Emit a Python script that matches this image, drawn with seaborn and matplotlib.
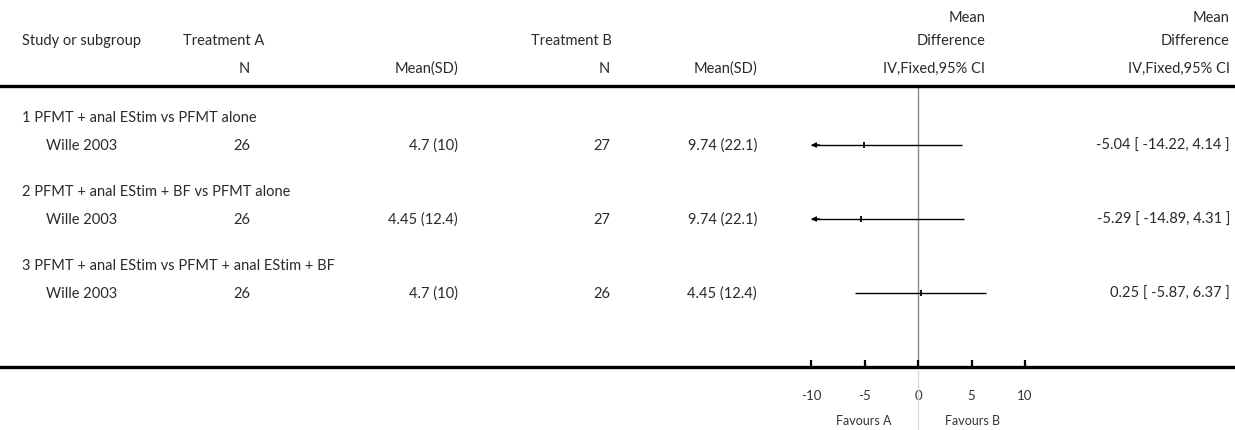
import numpy as np
import pandas as pd
import seaborn as sns
import matplotlib.pyplot as plt
from matplotlib.lines import Line2D

# ---- data ----
groups = ["1 PFMT + anal EStim vs PFMT alone",
          "2 PFMT + anal EStim + BF vs PFMT alone",
          "3 PFMT + anal EStim vs PFMT + anal EStim + BF"]
studies = ["Wille 2003", "Wille 2003", "Wille 2003"]
n_a = [26, 26, 26]
mean_a = [4.7, 4.45, 4.7]
sd_a = [10, 12.4, 10]
n_b = [27, 27, 26]
mean_b = [9.74, 9.74, 4.45]
sd_b = [22.1, 22.1, 12.4]
md = [-5.04, -5.29, 0.25]
ci_lo = [-14.22, -14.89, -5.87]
ci_hi = [4.14, 4.31, 6.37]
ticks = [-10, -5, 0, 5, 10]

W, H = 1235, 431
sns.set_theme(style="white")
plt.rcParams['font.family'] = ['Lato', 'DejaVu Sans']
TXT = "#2a2a2a"

fig = plt.figure(figsize=(W / 100, H / 100), dpi=100)


def px(x, y):
    return x / W, 1 - y / H


def put(x, y, s, ha="left", size=10.5, color=TXT):
    fx, fy = px(x, y)
    fig.text(fx, fy, s, ha=ha, va="center", fontsize=size, color=color)


# header
put(22, 41, "Study or subgroup")
put(183, 41, "Treatment A")
put(250, 69, "N", ha="right")
put(458, 69, "Mean(SD)", ha="right")
put(531, 41, "Treatment B")
put(610, 69, "N", ha="right")
put(757, 69, "Mean(SD)", ha="right")
put(985, 18, "Mean", ha="right")
put(985, 41, "Difference", ha="right")
put(985, 69, "IV,Fixed,95% CI", ha="right")
put(1230, 18, "Mean", ha="right")
put(1230, 41, "Difference", ha="right")
put(1230, 69, "IV,Fixed,95% CI", ha="right")

# horizontal rules
for yy in (87, 368):
    fig.add_artist(Line2D([0, 1], [px(0, yy)[1]] * 2, color="black", lw=2.4))

# forest axes: x -10..10 over px 811..1025, y in pixel rows 87..368
ax = fig.add_axes([811 / W, 1 - 368 / H, 214 / W, (368 - 87) / H])
ax.set_xlim(-10, 10)
ax.set_ylim(368, 87)

fmt = lambda v: f"{v:g}"
row_y = []
for i, g in enumerate(groups):
    yh = 118 + 74 * i
    ys = yh + 28
    row_y.append(ys)
    put(22, yh, g)
    put(46, ys, studies[i])
    put(250, ys, str(n_a[i]), ha="right")
    put(458, ys, f"{fmt(mean_a[i])} ({fmt(sd_a[i])})", ha="right")
    put(610, ys, str(n_b[i]), ha="right")
    put(757, ys, f"{fmt(mean_b[i])} ({fmt(sd_b[i])})", ha="right")
    put(1230, ys, f"{md[i]:.2f} [ {ci_lo[i]:.2f}, {ci_hi[i]:.2f} ]", ha="right")

df = pd.DataFrame({"y": row_y, "md": md, "lo": ci_lo, "hi": ci_hi})

ax.axvline(0, color="#888888", lw=1, zorder=0)
lo_c = np.clip(df["lo"], -10, 10)
hi_c = np.clip(df["hi"], -10, 10)
ax.hlines(df["y"], lo_c, hi_c, color="black", lw=1)
for _, r in df.iterrows():
    if r["lo"] < -10:
        ax.annotate("", xy=(-10, r["y"]), xytext=(-9.2, r["y"]),
                    arrowprops=dict(arrowstyle="-|>", color="black", lw=1,
                                    mutation_scale=7, shrinkA=0, shrinkB=0),
                    annotation_clip=False)
sns.scatterplot(data=df, x="md", y="y", marker="|", s=25, color="black",
                linewidth=1.3, ax=ax, zorder=3, legend=False)

# light continuation of the zero line below the axis
fig.add_artist(Line2D([px(918, 0)[0]] * 2, [px(0, 370)[1], 0],
                      color="#dddddd", lw=1))

for s in ax.spines.values():
    s.set_visible(False)
ax.set_xticks(ticks)
ax.set_xticklabels([str(t) for t in ticks], fontsize=9.5, color="#333333")
ax.set_yticks([])
ax.set_xlabel("")
ax.set_ylabel("")
ax.tick_params(axis="x", direction="in", length=5, width=1.6, color="black",
               pad=16, bottom=True)
ax.patch.set_alpha(0)

put(892, 421, "Favours A", ha="right", size=9, color="#333333")
put(945, 421, "Favours B", size=9, color="#333333")

fig.savefig("out.png", dpi=100)
